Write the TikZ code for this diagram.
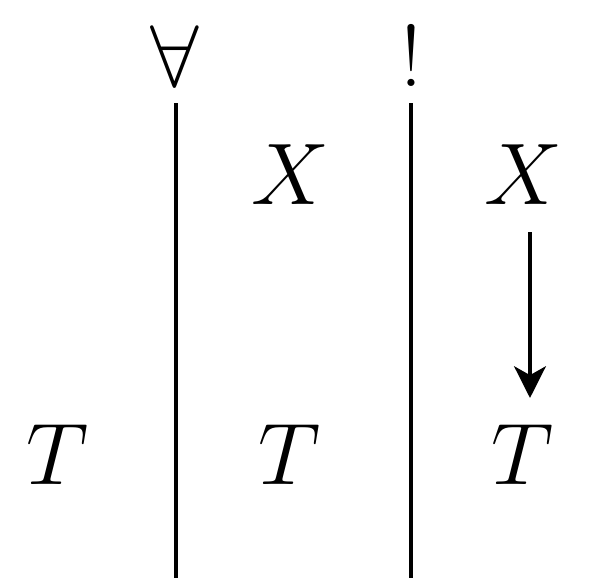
\documentclass[tikz,border=0pt]{standalone}
\usetikzlibrary{arrows.meta}
\begin{document}
\begin{tikzpicture}[x=0.01cm,y=-0.01cm,
    lbl/.style={font=\fontsize{25}{30}\selectfont, inner sep=0pt},
    wire/.style={line width=1.25pt}]
                \useasboundingbox (0,0) rectangle (596,578);
                \node[lbl] (all) at (175,56) {$\forall$};
                \node[lbl] (bang) at (411,56) {$!$};
                \node[lbl] (x1) at (290,175) {$X$};
                \node[lbl] (x2) at (523,175) {$X$};
                \node[lbl] (t0) at (58,455) {$T$};
                \node[lbl] (t1) at (290,455) {$T$};
                \node[lbl] (t2) at (523,455) {$T$};
                \coordinate (a) at (176,103);
                \coordinate (a') at (176,578);
                \coordinate (b) at (411,103);
                \coordinate (b') at (411,578);
                \coordinate (s) at (530,232);
                \coordinate (e) at (530,398);
                \draw[wire] (a) -- (a');
                \draw[wire] (b) -- (b');
                \draw[wire,-{Stealth[length=9pt,width=9pt,inset=2.5pt]}] (s) -- (e);
            \end{tikzpicture}
\end{document}
